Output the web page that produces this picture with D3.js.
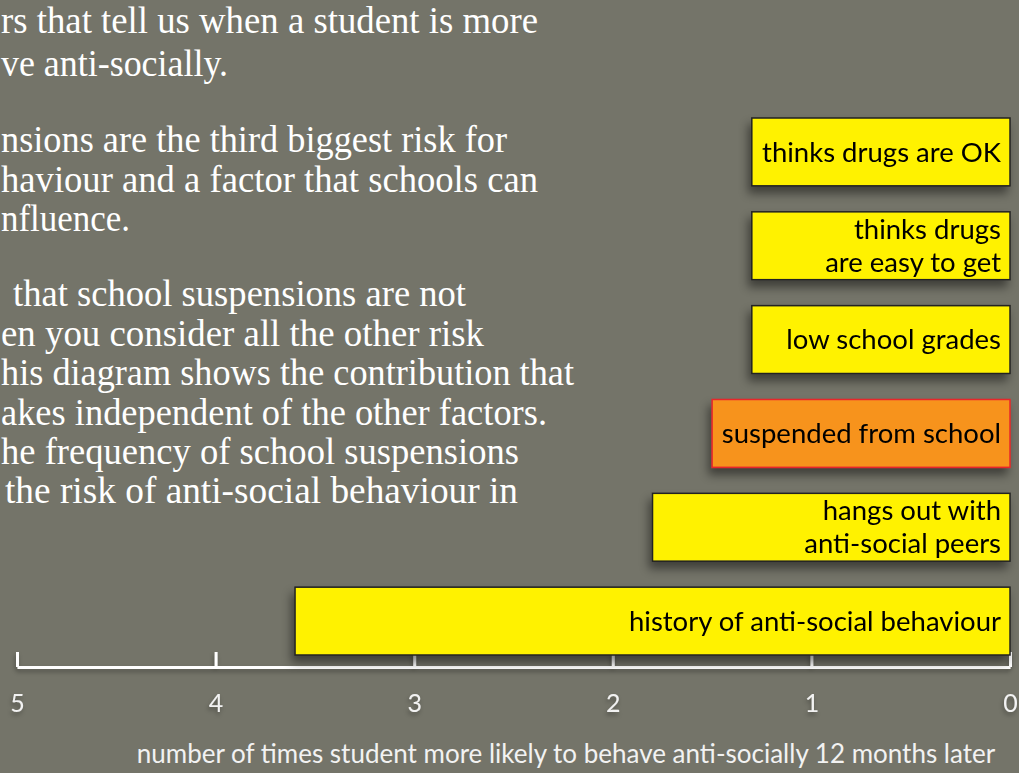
<!DOCTYPE html>
<html>
<head>
    <title>Risk factors - D3.js</title>
    <script src="https://d3js.org/d3.v7.min.js"></script>
    <style>
        html, body { margin: 0; padding: 0; background: #747469; overflow: hidden; }
        .note { font-family: "Liberation Serif", serif; font-size: 37px; fill: #fff; }
        .bar-label { font-family: Lato, sans-serif; font-size: 27.5px; fill: #000; }
        .axis path, .axis line { stroke: #fff; stroke-width: 3; fill: none; }
        .axis text { font-family: Lato, sans-serif; font-size: 25px; fill: #f2f2f2; }
        .axis-title { font-family: Lato, sans-serif; font-size: 26px; fill: #f2f2f2; text-anchor: middle; }
    </style>
</head>
<body>
<div id="chart"></div>
<script>
    // risk factors, top to bottom
    const categories = [
        "thinks drugs are OK",
        "thinks drugs\nare easy to get",
        "low school grades",
        "suspended from school",
        "hangs out with\nanti-social peers",
        "history of anti-social behaviour"
    ];
    // times more likely to behave anti-socially
    const values = [1.3, 1.3, 1.3, 1.5, 1.8, 3.6];
    const highlight = "suspended from school";
    const tickValues = [5, 4, 3, 2, 1, 0];

    // paragraph text (cropped on the left in the original): text, left, right, baseline
    const noteLines = [
        ["rs that tell us when a student is more", 1, 538, 33],
        ["ve anti-socially.", 1, 228, 76],
        ["nsions are the third biggest risk for", 1, 507, 152],
        ["haviour and a factor that schools can", 1, 538, 192],
        ["nfluence.", 1, 130, 231],
        ["that school suspensions are not", 13, 466, 306],
        ["en you consider all the other risk", 1, 484, 346],
        ["his diagram shows the contribution that", 1, 574, 385],
        ["akes independent of the other factors.", 1, 547, 425],
        ["he frequency of school suspensions", 1, 519, 464],
        ["the risk of anti-social behaviour in", 5, 518, 503]
    ];

    const W = 1019, H = 773;
    const svg = d3.select("#chart").append("svg")
        .attr("width", W).attr("height", H);

    const defs = svg.append("defs");
    const f = defs.append("filter").attr("id", "shadow")
        .attr("x", "-10%").attr("y", "-30%").attr("width", "130%").attr("height", "180%");
    f.append("feDropShadow").attr("dx", -3).attr("dy", 7).attr("stdDeviation", 5)
        .attr("flood-color", "#000").attr("flood-opacity", 0.45);
    const f2 = defs.append("filter").attr("id", "soft");
    f2.append("feDropShadow").attr("dx", -1).attr("dy", 3).attr("stdDeviation", 2)
        .attr("flood-color", "#000").attr("flood-opacity", 0.3);

    svg.append("g").selectAll("text")
        .data(noteLines)
        .join("text")
        .attr("class", "note")
        .attr("x", d => d[1])
        .attr("y", d => d[3])
        .attr("textLength", d => d[2] - d[1])
        .attr("lengthAdjust", "spacingAndGlyphs")
        .text(d => d[0]);

    // scales: 5 on the left, 0 on the right
    const x = d3.scaleLinear().domain([5, 0]).range([17, 1010]);
    const y = d3.scaleBand().domain(categories).range([118, 655])
        .paddingInner(0.277).paddingOuter(0);

    const axisY = 667;

    // x axis
    const xAxis = svg.append("g")
        .attr("class", "axis")
        .attr("transform", `translate(0,${axisY})`)
        .attr("filter", "url(#soft)")
        .call(d3.axisBottom(x).tickValues(tickValues).tickSizeInner(-15).tickSizeOuter(0)
            .tickPadding(27).tickFormat(d3.format("d")));
    xAxis.selectAll("text").attr("dy", "0.71em");

    // right vertical line (zero line)
    svg.append("line")
        .attr("x1", x(0)).attr("x2", x(0))
        .attr("y1", 10).attr("y2", axisY + 1.5)
        .attr("stroke", "#fff").attr("stroke-width", 3)
        .attr("filter", "url(#soft)");

    svg.append("text")
        .attr("class", "axis-title")
        .attr("x", 566).attr("y", 763)
        .text("number of times student more likely to behave anti-socially 12 months later");

    // bars
    const bars = svg.append("g").selectAll("g")
        .data(categories.map((c, i) => ({ name: c, value: values[i] })))
        .join("g");

    bars.append("rect")
        .attr("x", d => x(d.value))
        .attr("y", d => y(d.name))
        .attr("width", d => x(0) - x(d.value))
        .attr("height", y.bandwidth())
        .attr("fill", d => d.name === highlight ? "#f7931e" : "#fff200")
        .attr("stroke", d => d.name === highlight ? "#e8262a" : "#222")
        .attr("stroke-width", 1.5)
        .attr("filter", "url(#shadow)");

    bars.each(function (d) {
        const lines = d.name.split("\n");
        const cy = y(d.name) + y.bandwidth() / 2;
        const lh = 33;
        const t = d3.select(this).append("text")
            .attr("class", "bar-label")
            .attr("text-anchor", "end");
        lines.forEach((ln, i) => {
            t.append("tspan")
                .attr("x", x(0) - 9)
                .attr("y", cy + (i - (lines.length - 1) / 2) * lh)
                .attr("dy", "0.35em")
                .text(ln);
        });
    });
</script>
</body>
</html>
